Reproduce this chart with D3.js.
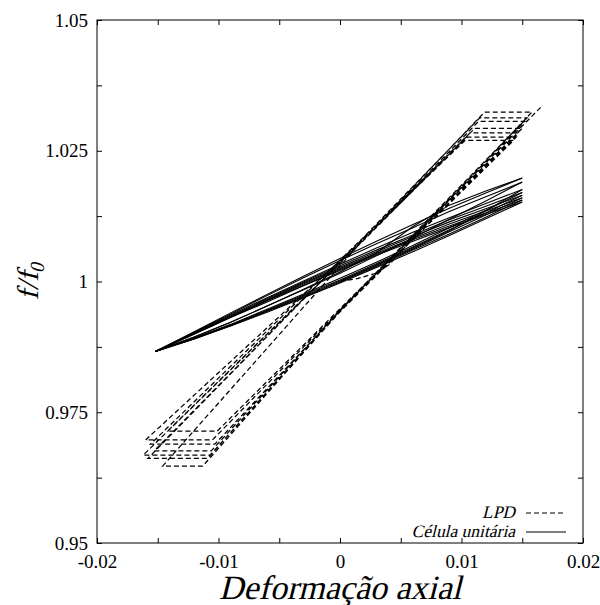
<!DOCTYPE html>
<html><head><meta charset="utf-8">
<script src="https://cdn.jsdelivr.net/npm/d3@7"></script>
<style>
body{margin:0;background:#fff}
text{font-family:"Liberation Serif","Times New Roman",serif !important;fill:#000}
</style></head>
<body><svg id="c" width="600" height="605"></svg>
<script>
// ---------- data ----------
const xTicksMajor = [-0.02, -0.01, 0, 0.01, 0.02];
const xTicksMinor = [-0.015, -0.005, 0.005, 0.015];
const yTicksMajor = [0.95, 0.975, 1, 1.025, 1.05];
const yTicksMinor = [0.9625, 0.9875, 1.0125, 1.0375];

// Célula unitária (solid) : strain grid and f/f0 values along each pass
const solidX = [-0.0152, -0.0120, -0.0090, -0.0060, -0.0030, 0.0000, 0.0030, 0.0060, 0.0090, 0.0120, 0.0150];
const solidInit = [[0.0000, 1.0000], [0.0030, 1.0032], [0.0060, 1.0064], [0.0090, 1.0097], [0.0120, 1.0135], [0.0150, 1.0176]];
const solidLoad = [
  [0.9866, 0.9891, 0.9916, 0.9944, 0.9972, 1.0001, 1.0031, 1.0062, 1.0095, 1.0127, 1.0160],
  [0.9866, 0.9894, 0.9922, 0.9953, 0.9984, 1.0016, 1.0049, 1.0083, 1.0119, 1.0154, 1.0190],
  [0.9866, 0.9890, 0.9915, 0.9941, 0.9969, 0.9997, 1.0027, 1.0057, 1.0088, 1.0120, 1.0152],
  [0.9866, 0.9892, 0.9918, 0.9947, 0.9976, 1.0006, 1.0037, 1.0069, 1.0103, 1.0136, 1.0170],
  [0.9866, 0.9894, 0.9922, 0.9953, 0.9985, 1.0018, 1.0055, 1.0105, 1.0146, 1.0173, 1.0198],
  [0.9866, 0.9890, 0.9916, 0.9943, 0.9970, 0.9999, 1.0029, 1.0060, 1.0091, 1.0123, 1.0156],
  [0.9866, 0.9892, 0.9917, 0.9945, 0.9974, 1.0003, 1.0034, 1.0066, 1.0099, 1.0131, 1.0165]
];
const solidUnload = [
  [0.9866, 0.9902, 0.9936, 0.9969, 1.0001, 1.0033, 1.0064, 1.0094, 1.0122, 1.0149, 1.0176],
  [0.9866, 0.9900, 0.9932, 0.9964, 0.9995, 1.0025, 1.0054, 1.0082, 1.0110, 1.0135, 1.0160],
  [0.9866, 0.9903, 0.9938, 0.9973, 1.0007, 1.0040, 1.0072, 1.0103, 1.0134, 1.0162, 1.0190],
  [0.9866, 0.9899, 0.9931, 0.9961, 0.9992, 1.0021, 1.0050, 1.0077, 1.0103, 1.0128, 1.0152],
  [0.9866, 0.9901, 0.9934, 0.9967, 0.9999, 1.0030, 1.0060, 1.0089, 1.0118, 1.0144, 1.0170],
  [0.9866, 0.9904, 0.9940, 0.9975, 1.0010, 1.0044, 1.0077, 1.0109, 1.0140, 1.0169, 1.0198],
  [0.9866, 0.9900, 0.9932, 0.9963, 0.9993, 1.0023, 1.0052, 1.0080, 1.0106, 1.0131, 1.0156],
  [0.9866, 0.9901, 0.9933, 0.9965, 0.9997, 1.0027, 1.0057, 1.0086, 1.0114, 1.0139, 1.0165]
];

// LPD (dashed): start curve, top plateaus [y, xLeft, xRight], bottom plateaus [y, xLeft, xRight]
const lpdStart = [[0.0000, 1.0000], [0.0015, 1.0006], [0.0030, 1.0016], [0.0041, 1.0033], [0.0047, 1.0050]];
const lpdTops = [[1.0324, 0.0119, 0.0158], [1.0313, 0.0115, 0.0154], [1.0306, 0.0114, 0.0152],
                 [1.0293, 0.0111, 0.0150], [1.0284, 0.0107, 0.0147], [1.0276, 0.0105, 0.0145],
                 [1.0270, 0.0103, 0.0143]];
const lpdBottoms = [[0.9697, -0.0160, -0.0105], [0.9689, -0.0156, -0.0103], [0.9714, -0.0142, -0.0101],
                    [0.9668, -0.0162, -0.0107], [0.9662, -0.0158, -0.0109], [0.9647, -0.0146, -0.0113],
                    [0.9676, -0.0153, -0.0106]];
const lpdUnloadMidX = 0.0020;
const lpdUnloadMid = [1.0083, 1.0086, 1.0081, 1.0080, 1.0085, 1.0082, 1.0084];
const lpdLoadMidX = 0.0000;
const lpdLoadMid = [0.9946, 0.9944, 0.9948, 0.9942, 0.9945, 0.9943, 0.9945];
const lpdEnd = [0.0166, 1.0335];

const legendLabels = ["LPD", "Célula unitária"];

// ---------- chart ----------
const svg = d3.select("#c");
const L = 97, R = 583, T = 20, B = 543;
const x = d3.scaleLinear().domain([-0.02, 0.02]).range([L, R]);
const y = d3.scaleLinear().domain([0.95, 1.05]).range([B, T]);
const line = d3.line().x(d => x(d[0])).y(d => y(d[1]));
const SERIF = "'Liberation Serif', 'Times New Roman', serif";
const SKEW = "skewX(-14)";

// data: solid
const g = svg.append("g");
const solidPaths = [solidInit]
  .concat(solidLoad.map(a => a.map((v, i) => [solidX[i], v])))
  .concat(solidUnload.map(a => a.map((v, i) => [solidX[i], v])));
g.selectAll("path.solid").data(solidPaths).join("path")
  .attr("class", "solid").attr("d", line)
  .attr("fill", "none").attr("stroke", "#000").attr("stroke-width", 1.1);

// data: LPD dashed
const lpdSeq = lpdStart.slice();
lpdTops.forEach((t, i) => {
  const b = lpdBottoms[i];
  lpdSeq.push([t[2], t[0]], [t[1], t[0]], [lpdUnloadMidX, lpdUnloadMid[i]],
              [b[1], b[0]], [b[2], b[0]], [lpdLoadMidX, lpdLoadMid[i]]);
});
lpdSeq.push(lpdEnd);
g.append("path").datum(lpdSeq).attr("d", line)
  .attr("fill", "none").attr("stroke", "#000").attr("stroke-width", 1.25)
  .attr("stroke-dasharray", "5,3");

// axes
const tk = 5;
const fmt = d => String(d);
svg.append("g").attr("transform", `translate(0,${B})`)
  .call(d3.axisBottom(x).tickValues(xTicksMajor).tickSizeInner(-tk).tickSizeOuter(0).tickPadding(12).tickFormat(fmt));
svg.append("g").attr("transform", `translate(0,${B})`)
  .call(d3.axisBottom(x).tickValues(xTicksMinor).tickSizeInner(-tk).tickSizeOuter(0).tickFormat(""));
svg.append("g").attr("transform", `translate(0,${T})`)
  .call(d3.axisTop(x).tickValues(xTicksMajor.concat(xTicksMinor)).tickSizeInner(-tk).tickSizeOuter(0).tickFormat(""));
svg.append("g").attr("transform", `translate(${L},0)`)
  .call(d3.axisLeft(y).tickValues(yTicksMajor).tickSizeInner(-tk).tickSizeOuter(0).tickPadding(9).tickFormat(fmt));
svg.append("g").attr("transform", `translate(${L},0)`)
  .call(d3.axisLeft(y).tickValues(yTicksMinor).tickSizeInner(-tk).tickSizeOuter(0).tickFormat(""));
svg.append("g").attr("transform", `translate(${R},0)`)
  .call(d3.axisRight(y).tickValues(yTicksMajor.concat(yTicksMinor)).tickSizeInner(-tk).tickSizeOuter(0).tickFormat(""));
svg.selectAll(".domain").remove();
svg.selectAll(".tick text").attr("font-size", 19).attr("font-family", SERIF);
svg.selectAll(".tick line").attr("stroke", "#000");

svg.append("rect").attr("x", L).attr("y", T).attr("width", R - L).attr("height", B - T)
  .attr("fill", "none").attr("stroke", "#000").attr("stroke-width", 1);

// axis titles (slanted serif)
svg.append("g").attr("transform", `translate(${(L + R) / 2},599) ${SKEW}`)
  .append("text").attr("text-anchor", "middle").attr("font-family", SERIF)
  .attr("font-size", 34).text("Deformação axial");
const yt = svg.append("g").attr("transform", `translate(38,281) rotate(-90) ${SKEW}`)
  .append("text").attr("text-anchor", "middle").attr("font-family", SERIF).attr("font-size", 30);
yt.append("tspan").text("f/f");
yt.append("tspan").attr("dy", 6).attr("font-size", 20).text("0");

// legend
const legY = [513, 532];
legendLabels.forEach((lab, i) => {
  svg.append("g").attr("transform", `translate(515,${legY[i] + 5}) ${SKEW}`)
    .append("text").attr("text-anchor", "end").attr("font-family", SERIF)
    .attr("font-size", 17.5).text(lab);
  svg.append("line").attr("x1", 526).attr("x2", 566).attr("y1", legY[i]).attr("y2", legY[i])
    .attr("stroke", "#000").attr("stroke-width", 1.1)
    .attr("stroke-dasharray", i === 0 ? "5,3" : null);
});
</script></body></html>
